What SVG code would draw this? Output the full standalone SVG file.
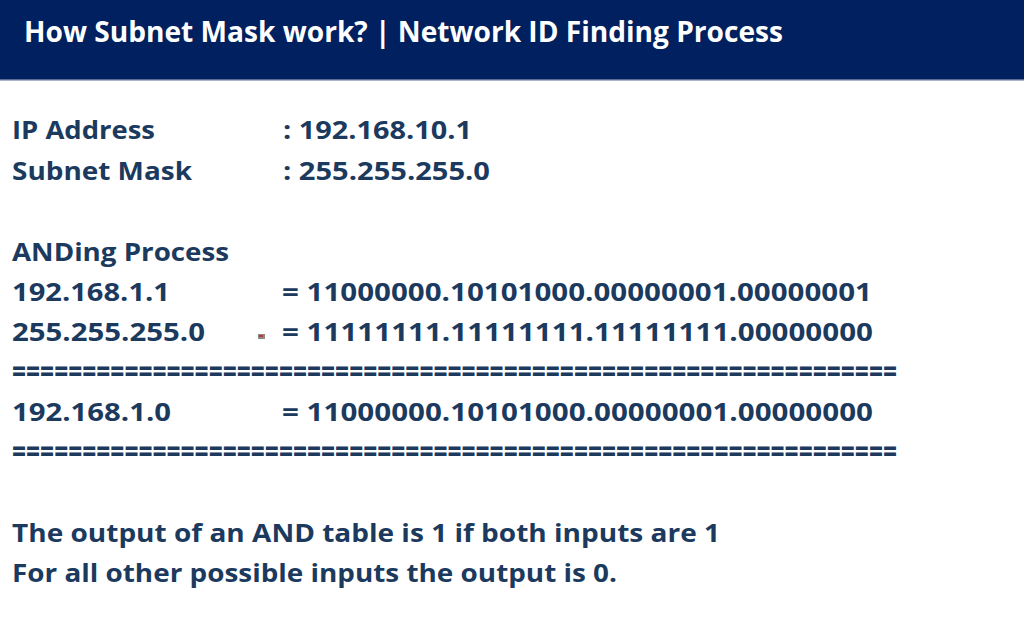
<svg xmlns="http://www.w3.org/2000/svg" width="1024" height="621" viewBox="0 0 1024 621">
<style>
.t{font-family:"Open Sans","Noto Sans","Liberation Sans",sans-serif;font-weight:700;fill:#1b3a5e;font-size:25.5px}
.h{font-family:"Open Sans","Noto Sans","Liberation Sans",sans-serif;font-weight:700;fill:#ffffff;font-size:29px}
.e{font-family:"Open Sans","Noto Sans","Liberation Sans",sans-serif;font-weight:800;fill:#1b3a5e;font-size:27px}
</style>
<rect width="1024" height="621" fill="#ffffff"/>
<g id="header">
<rect x="0" y="0" width="1024" height="80" fill="#002060"/>
<rect x="0" y="79" width="1024" height="1.5" fill="#5a6c94"/>
<text class="h" x="24" y="42" textLength="759" lengthAdjust="spacingAndGlyphs">How Subnet Mask work? | Network ID Finding Process</text>
</g>
<g id="info">
<text class="t" x="12" y="139" textLength="143" lengthAdjust="spacingAndGlyphs">IP Address</text>
<text class="t" x="283" y="139" textLength="189" lengthAdjust="spacingAndGlyphs">: 192.168.10.1</text>
<text class="t" x="12" y="180" textLength="180" lengthAdjust="spacingAndGlyphs">Subnet Mask</text>
<text class="t" x="283" y="180" textLength="207" lengthAdjust="spacingAndGlyphs">: 255.255.255.0</text>
</g>
<g id="anding">
<text class="t" x="12" y="261" textLength="217" lengthAdjust="spacingAndGlyphs">ANDing Process</text>
<text class="t" x="12" y="301" textLength="158" lengthAdjust="spacingAndGlyphs">192.168.1.1</text>
<text class="t" x="282" y="301" textLength="590" lengthAdjust="spacingAndGlyphs">= 11000000.10101000.00000001.00000001</text>
<text class="t" x="12" y="341" textLength="193" lengthAdjust="spacingAndGlyphs">255.255.255.0</text>
<g id="icon"><rect x="258" y="334" width="7" height="5" fill="#8a8a8a"/><rect x="259" y="335" width="4" height="2" fill="#c0392b"/></g>
<text class="t" x="282" y="341" textLength="591" lengthAdjust="spacingAndGlyphs">= 11111111.11111111.11111111.00000000</text>
<text class="e" x="12" y="381" textLength="885" lengthAdjust="spacingAndGlyphs">===============================================================</text>
<text class="t" x="12" y="421" textLength="159" lengthAdjust="spacingAndGlyphs">192.168.1.0</text>
<text class="t" x="282" y="421" textLength="591" lengthAdjust="spacingAndGlyphs">= 11000000.10101000.00000001.00000000</text>
<text class="e" x="12" y="461" textLength="885" lengthAdjust="spacingAndGlyphs">===============================================================</text>
</g>
<g id="notes">
<text class="t" x="12" y="542" textLength="708" lengthAdjust="spacingAndGlyphs">The output of an AND table is 1 if both inputs are 1</text>
<text class="t" x="12" y="582" textLength="605" lengthAdjust="spacingAndGlyphs">For all other possible inputs the output is 0.</text>
</g>
</svg>
